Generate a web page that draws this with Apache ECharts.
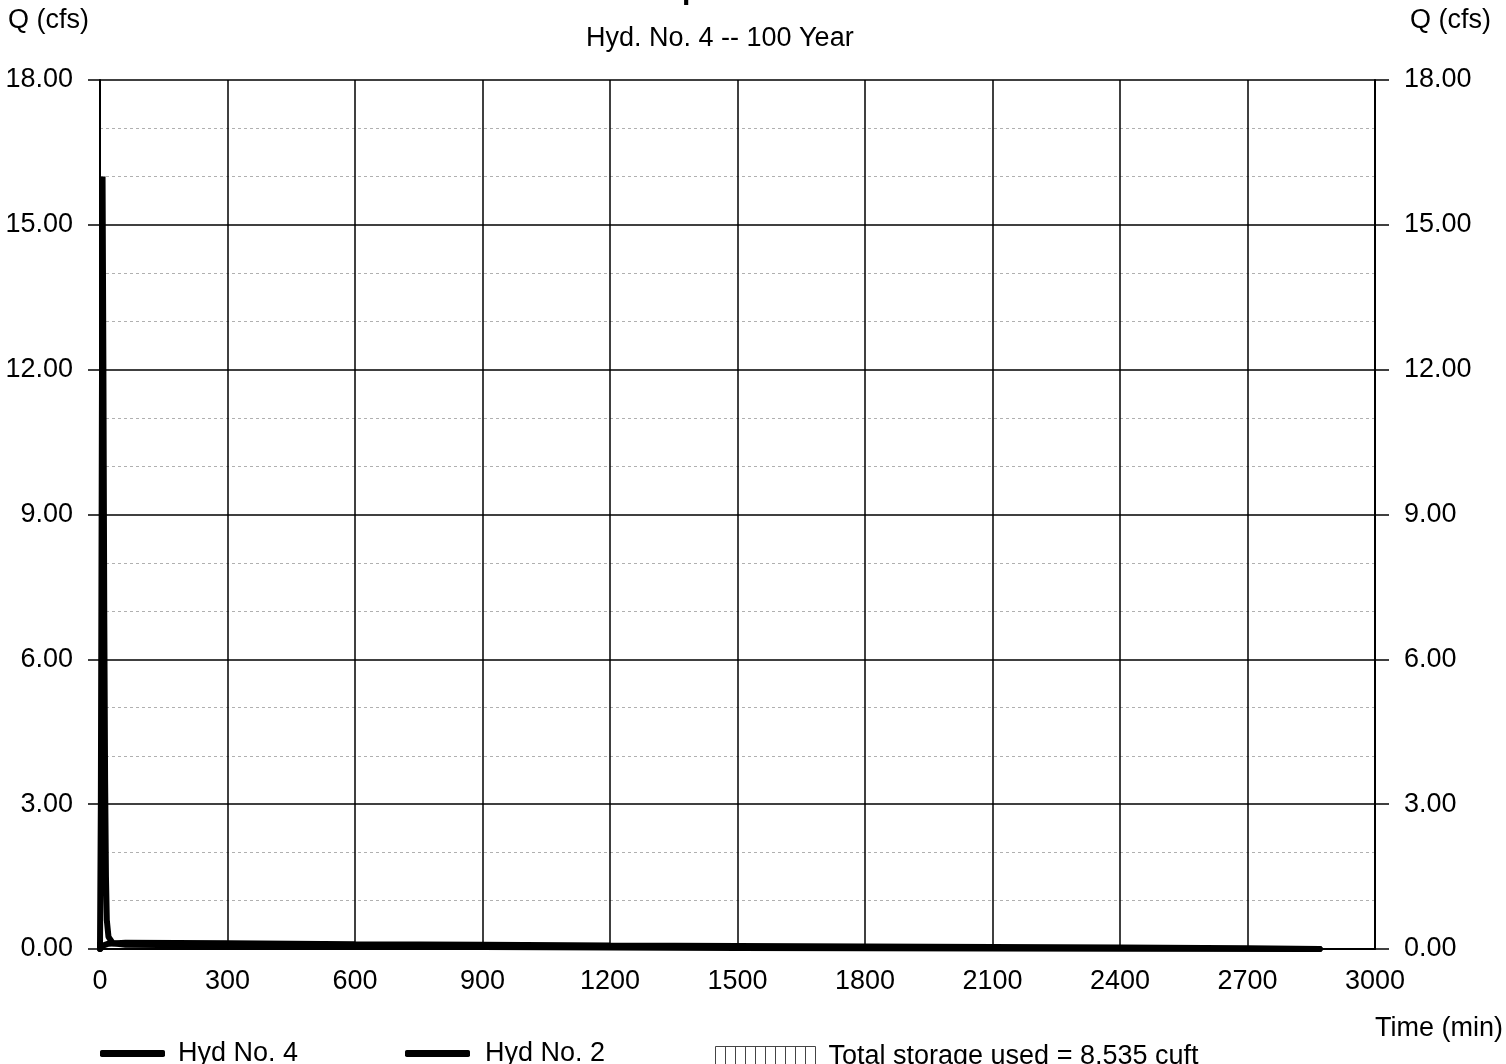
<!DOCTYPE html>
<html>
<head>
<meta charset="utf-8">
<script src="https://cdn.jsdelivr.net/npm/echarts@6/dist/echarts.min.js"></script>
<style>
html,body{margin:0;padding:0;background:#fff;}
#chart{width:1506px;height:1064px;}
</style>
</head>
<body>
<div id="chart"></div>
<script>
// ---- data (time in minutes, flow in cfs) ----
var titleText = 'pond';
var subTitleText = 'Hyd. No. 4 -- 100 Year';
var yTicks = [0, 3, 6, 9, 12, 15, 18];
var xTicks = [0, 300, 600, 900, 1200, 1500, 1800, 2100, 2400, 2700, 3000];

// Hyd No. 2 (inflow): sharp spike then small tail
var hyd2Time = [0, 2, 4, 6, 8, 10, 12, 14, 16, 20, 30, 60, 300, 600, 900, 1200, 1500, 1800, 2100, 2400, 2870];
var hyd2Flow = [0, 3.0, 9.5, 16.0, 12.0, 7.0, 3.5, 1.5, 0.6, 0.25, 0.12, 0.09, 0.07, 0.05, 0.04, 0.03, 0.02, 0.015, 0.01, 0.005, 0];

// Hyd No. 4 (routed outflow): low, slowly receding
var hyd4Time = [0, 10, 20, 60, 300, 600, 900, 1200, 1500, 1800, 2100, 2400, 2700, 2870];
var hyd4Flow = [0, 0.08, 0.11, 0.13, 0.12, 0.10, 0.09, 0.07, 0.06, 0.05, 0.04, 0.03, 0.015, 0];

var storageLabel = 'Total storage used = 8,535 cuft';

function pairs(t, v){ return t.map(function(x,i){ return [x, v[i]]; }); }

var FONT = '"Liberation Sans", Arial, sans-serif';
var FS = 27;
var chart = echarts.init(document.getElementById('chart'));

var storageIcon = 'path://M0,0H100V20H0Z M10,0V20 M20,0V20 M30,0V20 M40,0V20 M50,0V20 M60,0V20 M70,0V20 M80,0V20 M90,0V20';

var option = {
  backgroundColor: '#ffffff',
  animation: false,
  textStyle: { fontFamily: FONT, color: '#000' },
  title: [
    { text: titleText, left: 677, top: -29,
      textStyle: { fontFamily: FONT, fontSize: 30, fontWeight: 'bold', color: '#000' } },
    { text: subTitleText, left: 581, top: 20,
      textStyle: { fontFamily: FONT, fontSize: FS, fontWeight: 'normal', color: '#000' } }
  ],
  grid: { left: 100, right: 131, top: 80, bottom: 115, containLabel: false },
  xAxis: {
    type: 'value', min: 0, max: 3000, interval: 300,
    axisLine: { show: true, lineStyle: { color: '#000', width: 2 } },
    axisTick: { show: false },
    axisLabel: { color: '#000', fontSize: FS, fontFamily: FONT, margin: 19,
      formatter: function(v){ return String(v); } },
    splitLine: { show: true, lineStyle: { color: '#000', width: 1.5 } }
  },
  yAxis: [
    {
      type: 'value', min: 0, max: 18, interval: 3, position: 'left',
      axisLine: { show: true, lineStyle: { color: '#000', width: 2 } },
      axisTick: { show: true, inside: false, length: 12, lineStyle: { color: '#000', width: 1.5 } },
      axisLabel: { color: '#000', fontSize: FS, fontFamily: FONT, margin: 27,
        formatter: function(v){ return v.toFixed(2); } },
      splitLine: { show: true, lineStyle: { color: '#000', width: 1.5 } },
      minorTick: { show: false, splitNumber: 3 },
      minorSplitLine: { show: true, lineStyle: { color: '#b0b0b0', width: 1, type: [3, 3] } }
    },
    {
      type: 'value', min: 0, max: 18, interval: 3, position: 'right',
      axisLine: { show: true, lineStyle: { color: '#000', width: 2 } },
      axisTick: { show: true, inside: false, length: 14, lineStyle: { color: '#000', width: 1.5 } },
      axisLabel: { color: '#000', fontSize: FS, fontFamily: FONT, margin: 29,
        formatter: function(v){ return v.toFixed(2); } },
      splitLine: { show: false }
    }
  ],
  legend: [
    { left: 95, top: 1035, itemWidth: 65, itemHeight: 7, itemGap: 10,
      data: [{ name: 'Hyd No. 4', icon: 'roundRect', itemStyle: { color: '#000' } }],
      textStyle: { fontSize: FS, fontFamily: FONT, color: '#000', padding: [0, 0, 0, 8] } },
    { left: 400, top: 1035, itemWidth: 65, itemHeight: 7, itemGap: 10,
      data: [{ name: 'Hyd No. 2', icon: 'roundRect', itemStyle: { color: '#000' } }],
      textStyle: { fontSize: FS, fontFamily: FONT, color: '#000', padding: [0, 0, 0, 10] } },
    { left: 710, top: 1038, itemWidth: 100, itemHeight: 20,
      data: [{ name: storageLabel, icon: storageIcon,
        itemStyle: { color: 'rgba(0,0,0,0)', borderColor: '#444', borderWidth: 1 } }],
      textStyle: { fontSize: FS, fontFamily: FONT, color: '#000', padding: [0, 0, 0, 8] } }
  ],
  graphic: [
    { type: 'text', left: 8, top: 7,
      style: { text: 'Q (cfs)', font: FS + 'px ' + FONT, fill: '#000' } },
    { type: 'text', left: 1410, top: 7,
      style: { text: 'Q (cfs)', font: FS + 'px ' + FONT, fill: '#000' } },
    { type: 'text', left: 1375, top: 1015,
      style: { text: 'Time (min)', font: FS + 'px ' + FONT, fill: '#000' } }
  ],
  series: [
    { name: storageLabel, type: 'line', data: [], symbol: 'none',
      lineStyle: { width: 0 }, itemStyle: { color: '#000' } },
    { name: 'Hyd No. 4', type: 'line', data: pairs(hyd4Time, hyd4Flow),
      symbol: 'none', z: 5,
      lineStyle: { color: '#000', width: 6, cap: 'round' }, itemStyle: { color: '#000' } },
    { name: 'Hyd No. 2', type: 'line', data: pairs(hyd2Time, hyd2Flow),
      symbol: 'none', z: 6,
      lineStyle: { color: '#000', width: 6, cap: 'round' }, itemStyle: { color: '#000' } }
  ]
};
chart.setOption(option);
</script>
</body>
</html>
